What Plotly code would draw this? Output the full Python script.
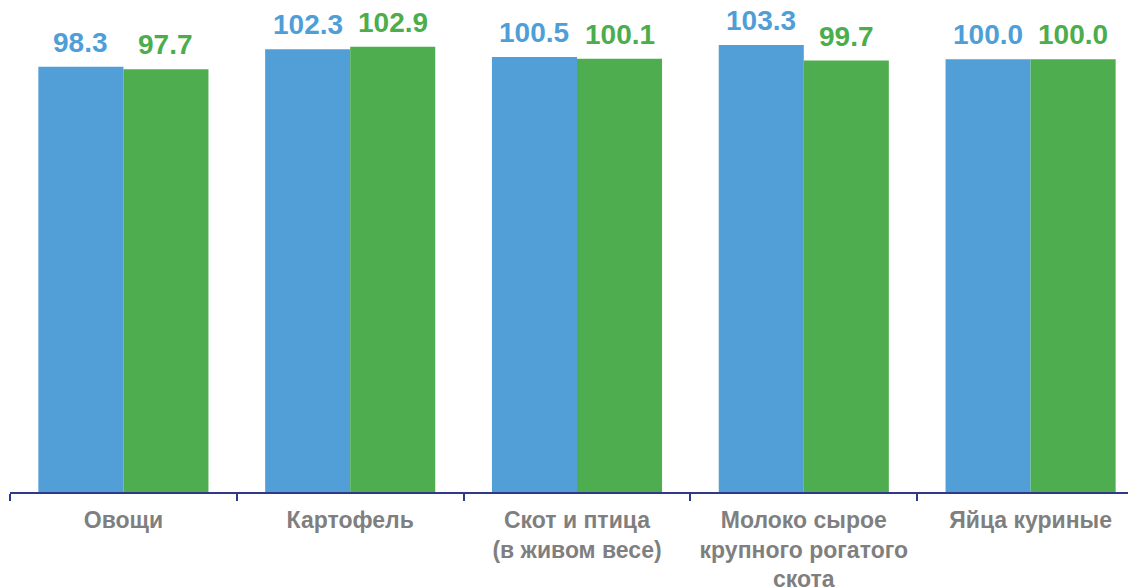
import plotly.graph_objects as go

categories = ["Овощи", "Картофель", "Скот и птица<br>(в живом весе)",
              "Молоко сырое<br>крупного рогатого<br>скота", "Яйца куриные"]
series_a = [98.3, 102.3, 100.5, 103.3, 100.0]
series_b = [97.7, 102.9, 100.1, 99.7, 100.0]
labels_a = ["98.3", "102.3", "100.5", "103.3", "100.0"]
labels_b = ["97.7", "102.9", "100.1", "99.7", "100.0"]

BLUE = "#529FD7"
GREEN = "#4EAE4F"
BLUE_T = "#4F9ED8"
GREEN_T = "#4BAD4C"
FONT = "Arial, Liberation Sans, sans-serif"

fig = go.Figure()
fig.add_trace(go.Bar(x=categories, y=series_a, marker=dict(color=BLUE, line=dict(width=0)), name="A"))
fig.add_trace(go.Bar(x=categories, y=series_b, marker=dict(color=GREEN, line=dict(width=0)), name="B"))

off = 0.1875
anns = []
for i, (va, vb, la, lb) in enumerate(zip(series_a, series_b, labels_a, labels_b)):
    anns.append(dict(x=i - off, y=va, xref="x", yref="y", text=la, showarrow=False,
                     yanchor="bottom", yshift=7,
                     font=dict(family=FONT, size=28, color=BLUE_T, weight="bold")))
    anns.append(dict(x=i + off, y=vb, xref="x", yref="y", text=lb, showarrow=False,
                     yanchor="bottom", yshift=7,
                     font=dict(family=FONT, size=28, color=GREEN_T, weight="bold")))

fig.update_layout(
    width=1136, height=587,
    margin=dict(l=2, r=0, t=8, b=103),
    paper_bgcolor="white", plot_bgcolor="white",
    barmode="group", bargap=0.25, bargroupgap=0,
    showlegend=False,
    annotations=anns,
    xaxis=dict(
        type="category", tickson="boundaries", ticks="outside", ticklen=7,
        tickcolor="#2E3A87", tickwidth=2, tickangle=0,
        showline=True, linecolor="#2E3A87", linewidth=2,
        showgrid=False, zeroline=False, automargin=False,
        ticklabelstandoff=6,
        tickfont=dict(family=FONT, size=23, color="#7F7F7F", weight="bold"),
    ),
    yaxis=dict(range=[0, 110], visible=False, showgrid=False, zeroline=False),
)

fig.write_html("out.html")
